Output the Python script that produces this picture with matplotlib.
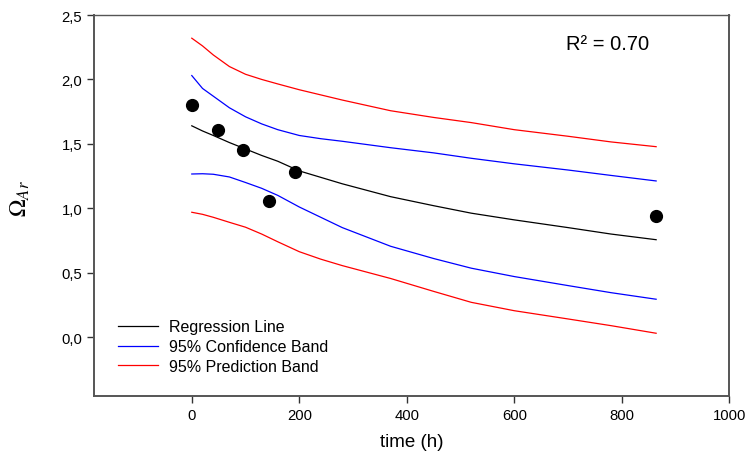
import matplotlib
matplotlib.use('Agg')
import matplotlib.pyplot as plt
from matplotlib.ticker import FuncFormatter

plt.rcParams['font.family'] = ['Liberation Sans', 'DejaVu Sans']
plt.rcParams['mathtext.fontset'] = 'stix'

# measured points
t_obs = [0, 48, 96, 144, 192, 864]
omega_obs = [1.80, 1.61, 1.45, 1.06, 1.28, 0.94]

# fitted curves
t_curve = [0, 20, 40, 70, 100, 130, 160, 200, 240, 280, 370, 450, 520, 600, 700, 780, 864]
reg = [1.64, 1.60, 1.565, 1.51, 1.46, 1.41, 1.365, 1.29, 1.24, 1.19, 1.09, 1.02, 0.962, 0.91, 0.85, 0.80, 0.756]
conf_up = [2.03, 1.93, 1.87, 1.78, 1.71, 1.655, 1.61, 1.565, 1.54, 1.52, 1.47, 1.43, 1.388, 1.345, 1.297, 1.255, 1.212]
conf_lo = [1.266, 1.268, 1.264, 1.243, 1.20, 1.155, 1.10, 1.01, 0.93, 0.85, 0.705, 0.61, 0.535, 0.47, 0.40, 0.345, 0.294]
pred_up = [2.32, 2.26, 2.19, 2.10, 2.04, 2.00, 1.965, 1.92, 1.88, 1.84, 1.757, 1.705, 1.665, 1.61, 1.559, 1.515, 1.478]
pred_lo = [0.969, 0.953, 0.93, 0.891, 0.853, 0.80, 0.74, 0.663, 0.605, 0.555, 0.455, 0.355, 0.27, 0.205, 0.141, 0.089, 0.030]

fig = plt.figure(figsize=(7.5, 4.64), dpi=100)
ax = fig.add_axes([0.1253, 0.1444, 0.847, 0.8211])

ax.plot(t_curve, reg, color='black', lw=0.9, label='Regression Line')
ax.plot(t_curve, conf_up, color='blue', lw=0.9, label='95% Confidence Band')
ax.plot(t_curve, conf_lo, color='blue', lw=0.9)
ax.plot(t_curve, pred_up, color='red', lw=0.9, label='95% Prediction Band')
ax.plot(t_curve, pred_lo, color='red', lw=0.9)
ax.plot(t_obs, omega_obs, 'o', color='black', ms=8.5, zorder=5)

ax.set_xlim(-182, 1000)
ax.set_ylim(-0.457, 2.5)
ax.set_xticks([0, 200, 400, 600, 800, 1000])
ax.set_yticks([0.0, 0.5, 1.0, 1.5, 2.0, 2.5])
ax.yaxis.set_major_formatter(FuncFormatter(lambda v, p: f'{v:.1f}'.replace('.', ',')))
ax.tick_params(direction='out', length=5, width=1, labelsize=10.7, colors='#333333', labelcolor='black')

for s in ['left', 'bottom', 'right']:
    ax.spines[s].set_color('#555555')
    ax.spines[s].set_linewidth(1.4)
ax.spines['top'].set_color('#555555')
ax.spines['top'].set_linewidth(1.0)

ax.set_xlabel('time (h)', fontsize=13.5, labelpad=8)
ax.set_ylabel(r'$\Omega_{Ar}$', fontsize=17)
ax.yaxis.set_label_coords(-0.098, 0.52)

ax.text(0.808, 0.924, 'R² = 0.70', transform=ax.transAxes, fontsize=14.5, ha='center', va='center')

ax.legend(loc='lower left', bbox_to_anchor=(0.038, 0.058), frameon=False, fontsize=11.5,
          handlelength=2.5, handletextpad=0.69, borderpad=0, borderaxespad=0, labelspacing=0.3)

plt.savefig('out.png', dpi=100)
